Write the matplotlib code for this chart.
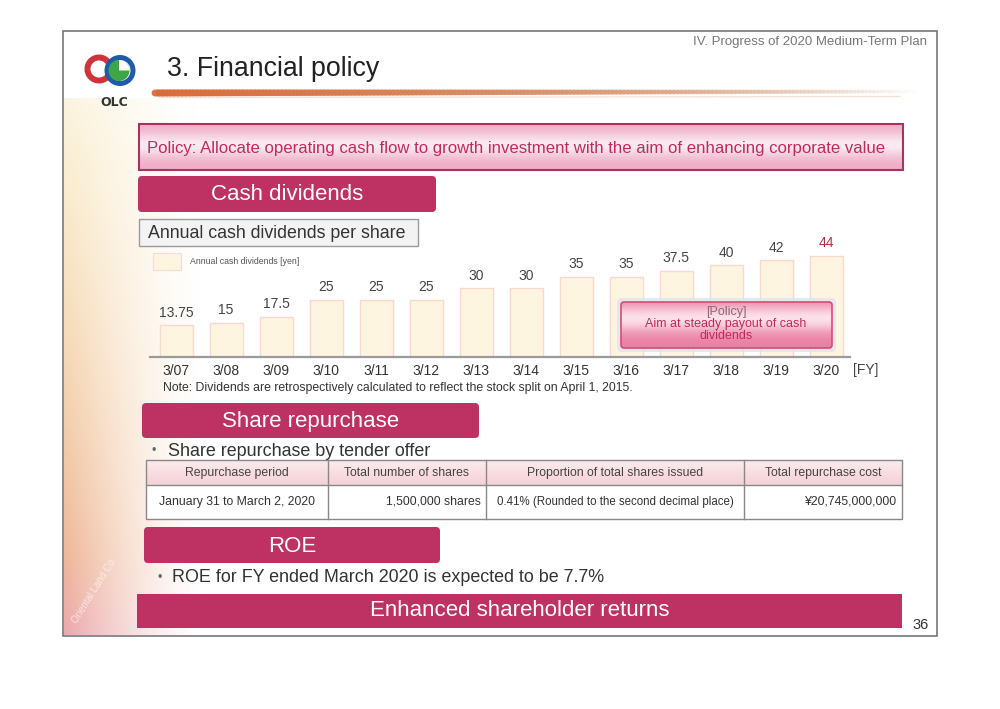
import numpy as np
import matplotlib.pyplot as plt
from matplotlib.patches import Rectangle, FancyBboxPatch, Wedge, Circle
from matplotlib.collections import LineCollection

plt.rcParams['font.family'] = ['Liberation Sans', 'DejaVu Sans']

# data
years = ['3/07', '3/08', '3/09', '3/10', '3/11', '3/12', '3/13',
         '3/14', '3/15', '3/16', '3/17', '3/18', '3/19', '3/20']
dividends = [13.75, 15, 17.5, 25, 25, 25, 30, 30, 35, 35, 37.5, 40, 42, 44]
div_labels = ['13.75', '15', '17.5', '25', '25', '25', '30',
              '30', '35', '35', '37.5', '40', '42', '44']

tbl_head = ['Repurchase period', 'Total number of shares',
            'Proportion of total shares issued', 'Total repurchase cost']
tbl_row = ['January 31 to March 2, 2020', '1,500,000 shares',
           '0.41% (Rounded to the second decimal place)', '¥20,745,000,000']

MAG = '#BE3163'
CRIM = '#C22A5C'


def pix_axes(fig):
    a = fig.add_axes([0, 0, 1, 1])
    a.set_xlim(0, 1000)
    a.set_ylim(709, 0)
    a.axis('off')
    a.patch.set_alpha(0)
    return a


fig = plt.figure(figsize=(10, 7.09), dpi=100)
bg = pix_axes(fig)

# slide frame
bg.add_patch(Rectangle((63, 31), 874, 605, fc='white', ec='#777777', lw=1.2, zorder=0))

# warm glow on the left edge
h, w = 240, 140
yy, xx = np.mgrid[0:1:h*1j, 0:1:w*1j]
img = np.zeros((h, w, 4))
img[..., 0] = 0.95 - 0.03 * yy
img[..., 1] = 0.84 - 0.22 * yy ** 1.2
img[..., 2] = 0.55 - 0.05 * yy + 0.15 * np.clip((yy - 0.85) / 0.15, 0, 1)
img[..., 3] = 0.9 * np.clip(1 - xx, 0, 1) ** 1.4 * (0.3 + 0.7 * yy ** 0.8)
bg.imshow(img, extent=(64, 204, 635, 98), aspect='auto', zorder=0.5, interpolation='bilinear')

# logo
bg.add_patch(Wedge((99, 69), 14.5, 35, 325, width=6, fc='#D0333A', ec='none', zorder=2))
bg.add_patch(Wedge((120, 70.5), 15.5, 0, 360, width=5, fc='#1F5BA8', ec='none', zorder=2))
bg.add_patch(Circle((119, 70.5), 10.5, fc='#3FA648', ec='none', zorder=3))
bg.add_patch(Wedge((119, 70.5), 10.5, 270, 360, fc='white', ec='none', zorder=3))
bg.text(114, 102, 'OLC', ha='center', va='center', fontsize=9, fontweight='bold',
        color='#333333', family='DejaVu Sans', zorder=3)

# header and title
bg.text(927, 42, 'IV. Progress of 2020 Medium-Term Plan', ha='right', va='center',
        fontsize=9.5, color='#777777')
bg.text(167, 69, '3. Financial policy', ha='left', va='center', fontsize=19.3, color='#222222')

# orange swoosh under the title
xs = np.linspace(155, 920, 200)
ys = 93 - 1.5 * (xs - 155) / 765
pts = np.column_stack([xs, ys]).reshape(-1, 1, 2)
segs = np.concatenate([pts[:-1], pts[1:]], axis=1)
t = np.linspace(0, 1, len(segs))
cols = np.zeros((len(segs), 4))
cols[:, 0] = 0.85
cols[:, 1] = 0.42 + 0.28 * t
cols[:, 2] = 0.22 + 0.38 * t
cols[:, 3] = np.clip(1.0 - t ** 2.5, 0, 1) * 0.95
bg.add_collection(LineCollection(segs, colors=cols, linewidths=5 - 2.5 * t, capstyle='round', zorder=2))
bg.plot([160, 900], [97.5, 96.5], color='#E9C9B0', lw=1, alpha=0.5, zorder=1.9)

# policy banner with gradient
g = np.linspace(0, 1, 60)[:, None]
prof = 1 - np.exp(-((g - 0.45) / 0.28) ** 2)
banner = np.zeros((60, 2, 3))
banner[..., 0] = 0.98 - 0.04 * prof
banner[..., 1] = 0.92 - 0.25 * prof
banner[..., 2] = 0.95 - 0.18 * prof
bg.imshow(banner, extent=(139, 903, 170, 124), aspect='auto', zorder=2, interpolation='bilinear')
bg.add_patch(Rectangle((139, 124), 764, 46, fc='none', ec='#A6345E', lw=1.5, zorder=3))
bg.text(147, 148, 'Policy: Allocate operating cash flow to growth investment with the aim of enhancing corporate value',
        ha='left', va='center', fontsize=12.1, color=CRIM, zorder=4)


def tab(x0, x1, y0, y1, label, size=16):
    bg.add_patch(FancyBboxPatch((x0, y0), x1 - x0, y1 - y0,
                                boxstyle='round,pad=0,rounding_size=4',
                                fc=MAG, ec='none', zorder=2))
    bg.text((x0 + x1) / 2, (y0 + y1) / 2 + 1, label, ha='center', va='center',
            fontsize=size, color='white', zorder=3)


tab(138, 436, 176, 212, 'Cash dividends')
tab(142, 479, 403, 438, 'Share repurchase')
tab(144, 440, 527, 563, 'ROE')

# bottom banner
bg.add_patch(Rectangle((137, 594), 765, 34, fc=MAG, ec='none', zorder=2))
bg.text(520, 611, 'Enhanced shareholder returns', ha='center', va='center',
        fontsize=16, color='white', zorder=3)
bg.text(929, 625, '36', ha='right', va='center', fontsize=10.5, color='#333333')

# sub-heading box
bg.add_patch(Rectangle((139, 219), 279, 27, fc='#F3F3F3', ec='#9A9A9A', lw=1, zorder=2))
bg.text(148, 233, 'Annual cash dividends per share', ha='left', va='center',
        fontsize=12.8, color='#333333', zorder=3)

# legend swatch
bg.add_patch(Rectangle((153, 253), 28, 17, fc='#FDF5E0', ec='#F8DCD2', lw=0.8, zorder=2))
bg.text(190, 261.5, 'Annual cash dividends [yen]', ha='left', va='center',
        fontsize=6.3, color='#555555', zorder=3)

# bullets
bg.text(152, 451, '•', ha='left', va='center', fontsize=9, color='#666666')
bg.text(168, 451, 'Share repurchase by tender offer', ha='left', va='center',
        fontsize=12.9, color='#333333')
bg.text(157, 578, '•', ha='left', va='center', fontsize=9, color='#666666')
bg.text(172, 578, 'ROE for FY ended March 2020 is expected to be 7.7%', ha='left', va='center',
        fontsize=12.9, color='#333333')

# note + FY
bg.text(163, 388, 'Note: Dividends are retrospectively calculated to reflect the stock split on April 1, 2015.',
        ha='left', va='center', fontsize=8.8, color='#333333')
bg.text(853, 370, '[FY]', ha='left', va='center', fontsize=10, color='#444444')

# table
cx = [146, 328, 486, 744, 902]
hg = np.linspace(0, 1, 30)[:, None]
head = np.zeros((30, 2, 3))
head[..., 0] = 0.99 - 0.03 * hg
head[..., 1] = 0.92 - 0.10 * hg
head[..., 2] = 0.93 - 0.09 * hg
bg.imshow(head, extent=(146, 902, 485, 460), aspect='auto', zorder=2, interpolation='bilinear')
bg.add_patch(Rectangle((146, 485), 756, 34, fc='white', ec='none', zorder=2))
bg.add_patch(Rectangle((146, 460), 756, 59, fc='none', ec='#888888', lw=1, zorder=3))
bg.plot([146, 902], [485, 485], color='#888888', lw=1, zorder=3)
for x in cx[1:-1]:
    bg.plot([x, x], [460, 519], color='#888888', lw=1, zorder=3)
for i, txt in enumerate(tbl_head):
    bg.text((cx[i] + cx[i + 1]) / 2, 473, txt, ha='center', va='center',
            fontsize=8.8, color='#444444', zorder=4)
bg.text((cx[0] + cx[1]) / 2, 502, tbl_row[0], ha='center', va='center', fontsize=8.8, color='#333333', zorder=4)
bg.text(cx[2] - 5, 502, tbl_row[1], ha='right', va='center', fontsize=8.8, color='#333333', zorder=4)
bg.text((cx[2] + cx[3]) / 2, 502, tbl_row[2], ha='center', va='center', fontsize=8.3, color='#333333', zorder=4)
bg.text(cx[4] - 6, 502, tbl_row[3], ha='right', va='center', fontsize=8.8, color='#333333', zorder=4)

# faint watermark
bg.text(95, 590, 'Oriental Land Co.', rotation=58, ha='center', va='center',
        fontsize=7, color='white', alpha=0.6, zorder=1)

# bar chart
ax = fig.add_axes([150 / 1000, 1 - 357 / 709, 700 / 1000, 117 / 709])
ax.patch.set_alpha(0)
x = np.arange(len(years))
ax.bar(x, dividends, width=0.66, color='#FDF5E0', edgecolor='#F8D8D0', linewidth=1, zorder=2)
for i, (v, lab) in enumerate(zip(dividends, div_labels)):
    ax.text(i, v + 2.4, lab, ha='center', va='bottom', fontsize=10,
            color='#B22D3F' if i == len(years) - 1 else '#444444')
ax.set_xlim(-0.52, 13.48)
ax.set_ylim(0, 50.9)
ax.set_xticks(x)
ax.set_xticklabels(years, fontsize=10, color='#333333')
ax.tick_params(axis='x', length=0, pad=5)
ax.set_yticks([])
for s in ['top', 'right', 'left']:
    ax.spines[s].set_visible(False)
ax.spines['bottom'].set_color('#9A9A9A')
ax.spines['bottom'].set_linewidth(1.6)

# policy callout box on top of the bars
top = pix_axes(fig)
pg = np.linspace(0, 1, 40)[:, None]
pprof = np.exp(-((pg - 0.35) / 0.3) ** 2)
pbox = np.zeros((40, 2, 3))
pbox[..., 0] = 0.92 + 0.07 * pprof
pbox[..., 1] = 0.50 + 0.38 * pprof
pbox[..., 2] = 0.64 + 0.28 * pprof
top.add_patch(FancyBboxPatch((617, 298), 219, 54, boxstyle='round,pad=0,rounding_size=5',
                             fc='#E4E0F2', ec='none', alpha=0.8, zorder=4))
top.imshow(pbox, extent=(621, 832, 348, 302), aspect='auto', zorder=5, interpolation='bilinear')
top.add_patch(FancyBboxPatch((621, 302), 211, 46, boxstyle='round,pad=0,rounding_size=3',
                             fc='none', ec='#D2506E', lw=1.2, zorder=6))
top.text(726, 312.5, '[Policy]', ha='center', va='center', fontsize=9, color='#8A6A76', zorder=7)
top.text(726, 324.5, 'Aim at steady payout of cash', ha='center', va='center', fontsize=9, color=CRIM, zorder=7)
top.text(726, 336, 'dividends', ha='center', va='center', fontsize=9, color=CRIM, zorder=7)

fig.savefig('out.png', dpi=100)
